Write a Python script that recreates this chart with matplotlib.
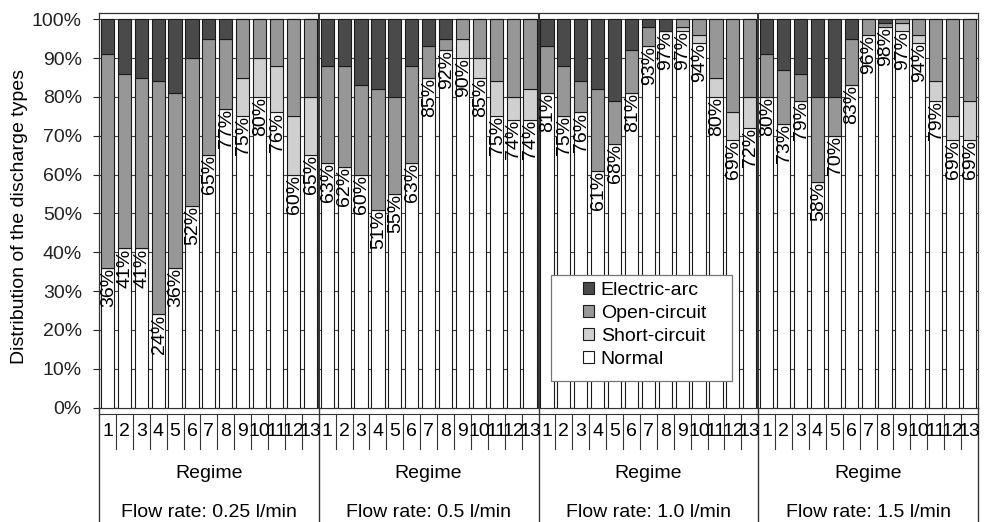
import matplotlib
matplotlib.use('Agg')
import matplotlib.pyplot as plt
import numpy as np
from matplotlib.patches import Rectangle, Patch

plt.rcParams['font.family'] = ['Liberation Sans', 'DejaVu Sans']

############################
# data (percent per regime)
############################
flow_rates = ['Flow rate: 0.25 l/min', 'Flow rate: 0.5 l/min',
              'Flow rate: 1.0 l/min', 'Flow rate: 1.5 l/min']
regimes = [str(i) for i in range(1, 14)]

normal_025 = [36, 41, 41, 24, 36, 52, 65, 77, 75, 80, 76, 60, 65]
short_025 = [0, 0, 0, 0, 0, 0, 0, 0, 10, 10, 12, 15, 15]
open_025 = [55, 45, 44, 60, 45, 38, 30, 18, 15, 10, 12, 25, 20]
arc_025 = [9, 14, 15, 16, 19, 10, 5, 5, 0, 0, 0, 0, 0]

normal_05 = [63, 62, 60, 51, 55, 63, 85, 92, 90, 85, 75, 74, 74]
short_05 = [0, 0, 0, 0, 0, 0, 0, 0, 5, 5, 9, 6, 8]
open_05 = [25, 26, 23, 31, 25, 25, 8, 3, 5, 10, 16, 20, 18]
arc_05 = [12, 12, 17, 18, 20, 12, 7, 5, 0, 0, 0, 0, 0]

normal_10 = [81, 75, 76, 61, 68, 81, 93, 97, 97, 94, 80, 69, 72]
short_10 = [0, 0, 0, 0, 0, 0, 0, 0, 1, 2, 5, 7, 8]
open_10 = [12, 13, 8, 21, 11, 11, 5, 0, 2, 4, 15, 24, 20]
arc_10 = [7, 12, 16, 18, 21, 8, 2, 3, 0, 0, 0, 0, 0]

normal_15 = [80, 73, 79, 58, 70, 83, 96, 98, 97, 94, 79, 69, 69]
short_15 = [0, 0, 0, 0, 0, 0, 0, 0, 2, 2, 5, 6, 10]
open_15 = [11, 14, 7, 22, 10, 12, 4, 1, 1, 4, 16, 25, 21]
arc_15 = [9, 13, 14, 20, 20, 5, 0, 1, 0, 0, 0, 0, 0]

normal = np.array(normal_025 + normal_05 + normal_10 + normal_15)
short = np.array(short_025 + short_05 + short_10 + short_15)
opn = np.array(open_025 + open_05 + open_10 + open_15)
arc = np.array(arc_025 + arc_05 + arc_10 + arc_15)

c_arc = '#4a4a4a'
c_open = '#979797'
c_short = '#d0d0d0'
c_norm = 'white'
edge = '#1a1a1a'
fs = 14

ngrp = len(flow_rates)
nreg = len(regimes)
x = np.arange(ngrp * nreg)

fig = plt.figure(figsize=(9.84, 5.22), dpi=100)
ax = fig.add_axes([99/984., (522-407.5)/522., 879/984., 394.5/522.])

w = 0.78
kw = dict(width=w, edgecolor=edge, linewidth=0.8, zorder=3)
ax.bar(x, normal, color=c_norm, **kw)
ax.bar(x, short, bottom=normal, color=c_short, **kw)
ax.bar(x, opn, bottom=normal+short, color=c_open, **kw)
ax.bar(x, arc, bottom=normal+short+opn, color=c_arc, **kw)

for xi, v in zip(x, normal):
    ax.text(xi + 0.05, v, '%d%%' % v, rotation=90, ha='center', va='top',
            fontsize=fs, zorder=4)

ax.set_xlim(-0.5, len(x) - 0.5)
ax.set_ylim(0, 101.62)
ax.set_yticks(np.arange(0, 101, 10))
ax.set_yticklabels(['%d%%' % t for t in range(0, 101, 10)], fontsize=fs)
ax.tick_params(axis='y', direction='out', length=4.3, width=0.8, pad=8,
               colors='#222222')
ax.tick_params(axis='x', bottom=False, labelbottom=False)
ax.yaxis.grid(True, color='#444444', linewidth=0.8, zorder=0)
ax.set_axisbelow(True)
for s in ax.spines.values():
    s.set_color('#333333')
    s.set_linewidth(0.9)

ax.set_ylabel('Distribution of the discharge types', fontsize=fs)
ax.yaxis.set_label_coords(-0.081, 0.485)

# group boundaries through the plot
for g in range(1, ngrp):
    ax.axvline(g*nreg - 0.5, color='#333333', linewidth=1.4, zorder=1)

# category table under the axis
tr = ax.get_xaxis_transform()
ytab = -0.0165
ynum = -0.062
ysep = -0.1052
yreg = -0.168
yflow = -0.266
ybot = -0.2903
lc = '#333333'
ax.plot([-0.5, len(x) - 0.5], [ytab, ytab], color=lc, lw=0.8,
        transform=tr, clip_on=False)
for i in range(len(x)):
    ax.text(x[i], ynum, regimes[i % nreg], ha='center', va='center',
            fontsize=fs, transform=tr)
    if (i + 1) % nreg != 0:
        ax.plot([i + 0.5, i + 0.5], [ytab, ysep], color=lc, lw=0.8,
                transform=tr, clip_on=False)
for g in range(ngrp + 1):
    xb = g*nreg - 0.5
    ax.plot([xb, xb], [0, ybot], color=lc, lw=1.0, transform=tr,
            clip_on=False)
for g in range(ngrp):
    xc = g*nreg + (nreg - 1)/2.
    ax.text(xc, yreg, 'Regime', ha='center', va='center', fontsize=fs,
            transform=tr)
    ax.text(xc, yflow, flow_rates[g], ha='center', va='center',
            fontsize=fs, transform=tr)

# legend
ax.add_patch(Rectangle((0.514, 0.067), 0.206, 0.269, transform=ax.transAxes,
                       facecolor='white', edgecolor='#777777', lw=0.9,
                       zorder=6))
handles = [Patch(facecolor=c_arc, edgecolor=edge, lw=0.8),
           Patch(facecolor=c_open, edgecolor=edge, lw=0.8),
           Patch(facecolor=c_short, edgecolor=edge, lw=0.8),
           Patch(facecolor=c_norm, edgecolor=edge, lw=0.8)]
leg = ax.legend(handles, ['Electric-arc', 'Open-circuit', 'Short-circuit',
                          'Normal'],
                loc='upper left', bbox_to_anchor=(0.551, 0.318),
                frameon=False, fontsize=fs, borderpad=0, borderaxespad=0,
                handlelength=0.55, handleheight=0.55, handletextpad=0.35,
                labelspacing=0.3)
leg.set_zorder(7)

plt.savefig('out.png', dpi=100)
